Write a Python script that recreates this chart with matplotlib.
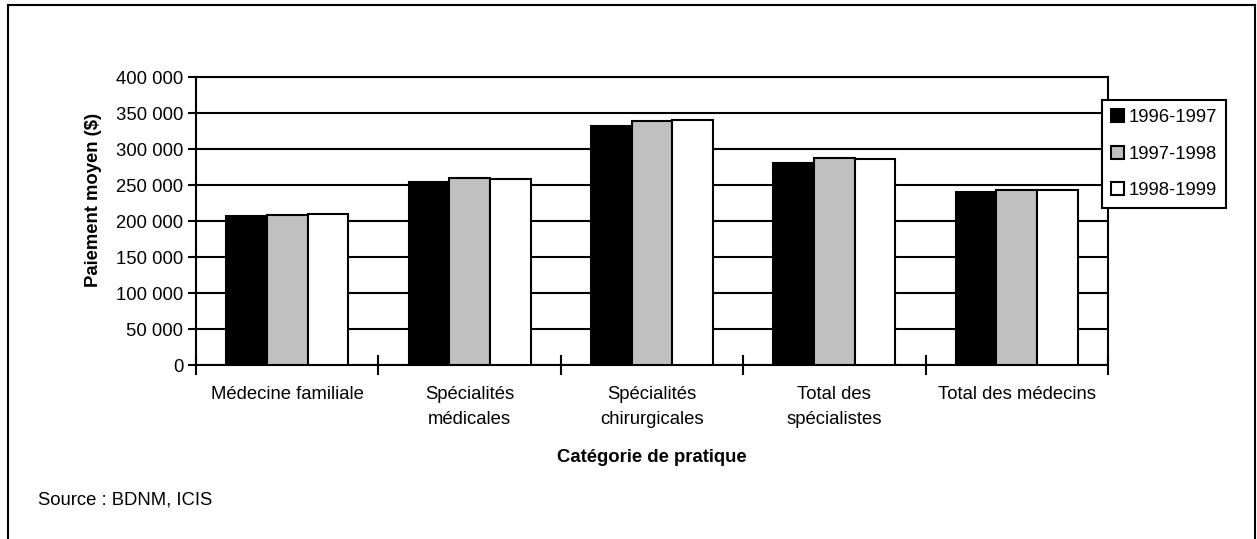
import matplotlib
matplotlib.use("Agg")
import matplotlib.pyplot as plt
import numpy as np
from matplotlib.lines import Line2D

plt.rcParams['font.family'] = ['Liberation Sans', 'DejaVu Sans']

categories = ["Médecine familiale", "Spécialités\nmédicales", "Spécialités\nchirurgicales",
              "Total des\nspécialistes", "Total des médecins"]
series_names = ["1996-1997", "1997-1998", "1998-1999"]
v_1996_1997 = [207000, 253500, 332500, 281000, 240500]
v_1997_1998 = [208500, 260000, 339500, 287000, 243500]
v_1998_1999 = [209500, 259000, 340500, 286500, 243500]
series_values = [v_1996_1997, v_1997_1998, v_1998_1999]
colors = ["#000000", "#c0c0c0", "#ffffff"]
yticks = [0, 50000, 100000, 150000, 200000, 250000, 300000, 350000, 400000]
ytick_labels = ["0", "50 000", "100 000", "150 000", "200 000", "250 000", "300 000", "350 000", "400 000"]

W, H = 1257, 539
fig = plt.figure(figsize=(W / 100, H / 100), dpi=100)
ax = fig.add_axes([196 / W, 1 - 365 / H, (1108 - 196) / W, (365 - 77) / H])

fs = 13.3
x = np.arange(len(categories))
bw = 0.223
for i, (name, vals, c) in enumerate(zip(series_names, series_values, colors)):
    ax.bar(x + (i - 1) * bw, vals, width=bw, color=c, edgecolor="black", linewidth=1.5,
           label=name, zorder=3)

ax.set_xlim(-0.5, len(categories) - 0.5)
ax.set_ylim(0, 400000)
ax.set_yticks(yticks)
ax.set_yticklabels(ytick_labels, fontsize=fs)
ax.yaxis.grid(True, color="black", linewidth=1.5, zorder=1)
ax.set_axisbelow(True)

ax.set_xticks(x)
ax.set_xticklabels(categories, fontsize=fs, linespacing=1.65)
ax.set_xticks(np.arange(-0.5, len(categories), 1.0), minor=True)
ax.tick_params(axis='x', which='major', length=0, pad=15)
ax.tick_params(axis='x', which='minor', direction='inout', length=14, width=1.5)
ax.tick_params(axis='y', direction='out', length=6, width=1.5, pad=3)
for s in ax.spines.values():
    s.set_linewidth(1.5)
    s.set_color("black")

fig.text(93 / W, 1 - 200 / H, "Paiement moyen ($)", rotation=90, fontsize=fs,
         fontweight="bold", ha="center", va="center")
fig.text(652 / W, 1 - 458 / H, "Catégorie de pratique", fontsize=fs,
         fontweight="bold", ha="center", va="center")
fig.text(38 / W, 1 - 500 / H, "Source : BDNM, ICIS", fontsize=fs, ha="left", va="center")

leg = ax.legend(loc="upper left", bbox_to_anchor=(1101.5 / W, 1 - 100 / H),
                bbox_transform=fig.transFigure, borderaxespad=0, fontsize=fs,
                fancybox=False, framealpha=1, edgecolor="black",
                handlelength=0.7, handleheight=0.7, handletextpad=0.25,
                labelspacing=1.05, borderpad=0.5)
leg.get_frame().set_linewidth(1.5)
leg.set_zorder(5)

# outer frame
lw = 1.5
fig.add_artist(Line2D([8 / W, 8 / W], [0, 1 - 5 / H], transform=fig.transFigure, color="black", lw=lw))
fig.add_artist(Line2D([8 / W, 1255 / W], [1 - 5 / H, 1 - 5 / H], transform=fig.transFigure, color="black", lw=lw))
fig.add_artist(Line2D([1255 / W, 1255 / W], [0, 1 - 5 / H], transform=fig.transFigure, color="black", lw=lw))

fig.savefig("out.png", dpi=100)
